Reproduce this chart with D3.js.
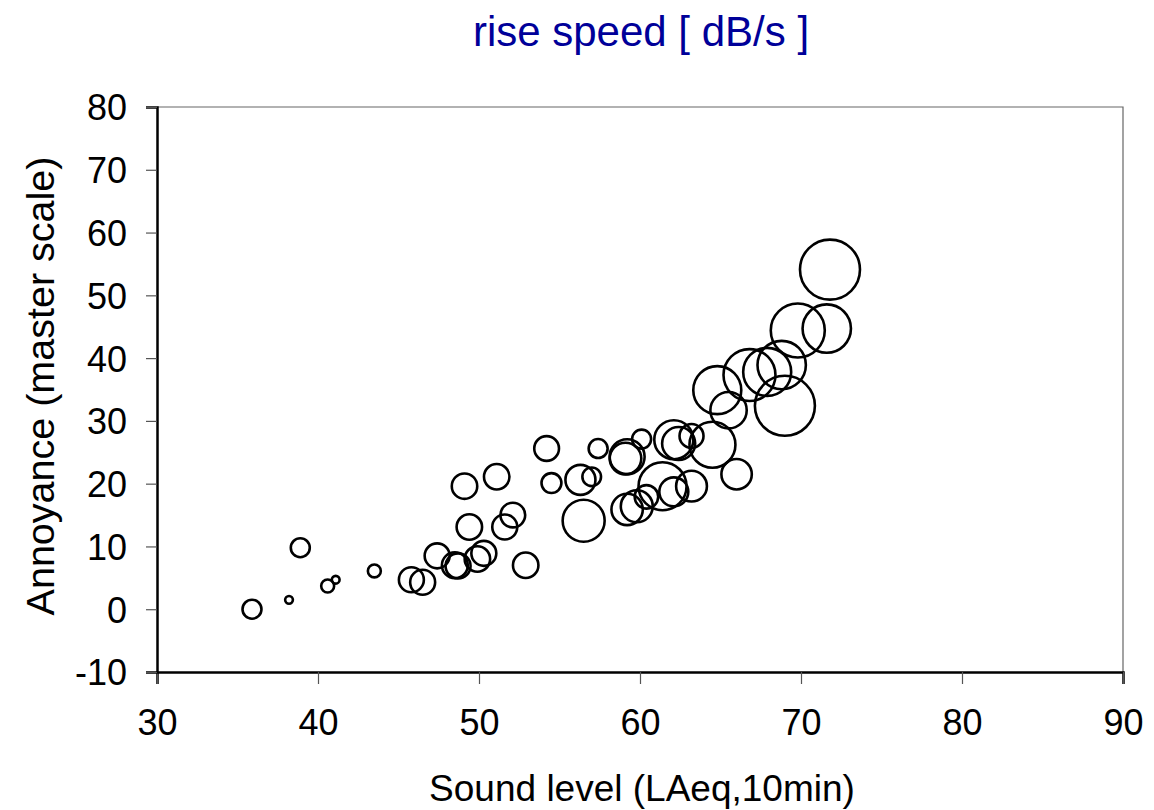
<!DOCTYPE html>
<html>
<head>
<meta charset="utf-8">
<script src="https://cdn.jsdelivr.net/npm/d3@7"></script>
<style>
  body { margin: 0; background: #fff; }
  text { font-family: "Liberation Sans", Arial, sans-serif; }
</style>
</head>
<body>
<div id="chart"></div>
<script>
// sound level (LAeq,10min), annoyance and rise speed for each bubble
const soundLevel = [35.9, 38.2, 38.9, 40.6, 41.1, 43.5, 45.8, 46.5, 47.4, 48.5,
  48.7, 49.1, 49.4, 49.9, 50.3, 51.1, 51.6, 52.1, 52.9, 54.2,
  54.5, 56.3, 57.0, 56.5, 57.4, 59.2, 59.1, 60.1, 59.2, 59.8,
  60.4, 61.4, 62.1, 63.2, 62.1, 62.4, 63.2, 64.5, 66.0, 64.8,
  65.5, 66.8, 67.9, 68.8, 69.0, 69.8, 71.6, 71.8];
const annoyance = [0.0, 1.5, 9.8, 3.7, 4.7, 6.1, 4.7, 4.3, 8.5, 7.0,
  6.9, 19.6, 13.1, 8.0, 8.9, 21.1, 13.1, 15.0, 7.0, 25.6,
  20.1, 20.6, 21.1, 14.1, 25.6, 24.3, 24.0, 27.1, 15.9, 16.4,
  17.9, 19.6, 18.7, 19.6, 27.0, 26.4, 27.6, 26.2, 21.5, 34.9,
  31.7, 37.3, 37.8, 38.9, 32.4, 44.4, 44.7, 54.1];
const riseSpeed = [3.0, 0.5, 3.0, 1.4, 0.5, 1.4, 5.2, 5.2, 5.2, 5.6,
  5.2, 5.4, 5.4, 5.4, 5.2, 5.4, 5.2, 5.1, 5.4, 5.1,
  3.3, 7.5, 2.9, 14.7, 3.0, 10.2, 8.3, 3.0, 8.2, 8.5,
  4.6, 19.2, 7.0, 7.9, 12.7, 9.1, 4.8, 17.6, 7.7, 19.2,
  11.0, 22.5, 19.2, 19.5, 30.0, 24.3, 19.5, 30.0];

const xTicks = [30, 40, 50, 60, 70, 80, 90];
const yTicks = [-10, 0, 10, 20, 30, 40, 50, 60, 70, 80];

const data = soundLevel.map((d, i) => ({ x: d, y: annoyance[i], s: riseSpeed[i] }));

const width = 1154, height = 810;
const margin = { top: 107, right: 31, bottom: 138, left: 157 };

const svg = d3.select("#chart")
  .append("svg")
    .attr("width", width)
    .attr("height", height);

const xScale = d3.scaleLinear()
  .domain([30, 90])
  .range([margin.left, width - margin.right]);

const yScale = d3.scaleLinear()
  .domain([-10, 80])
  .range([height - margin.bottom, margin.top]);

const rScale = d3.scaleSqrt()
  .domain([0, 30])
  .range([0, 30]);

// frame on top and right
svg.append("path")
  .attr("d", `M${xScale(30)},${yScale(80)}H${xScale(90)}V${yScale(-10)}`)
  .attr("fill", "none")
  .attr("stroke", "#666")
  .attr("stroke-width", 1.2);

const xAxis = svg.append("g")
  .attr("transform", `translate(0, ${yScale(-10)})`)
  .call(d3.axisBottom(xScale).tickValues(xTicks).tickSize(12).tickFormat(d => String(d)));

const yAxis = svg.append("g")
  .attr("transform", `translate(${xScale(30)}, 0)`)
  .call(d3.axisLeft(yScale).tickValues(yTicks).tickSize(11).tickFormat(d => String(d)));

[xAxis, yAxis].forEach(g => {
  g.select(".domain").attr("stroke", "#000").attr("stroke-width", 2.5);
  g.selectAll(".tick line").attr("stroke", "#555").attr("stroke-width", 1.2);
  g.selectAll(".tick text")
    .attr("fill", "#000")
    .style("font-family", "'Liberation Sans', Arial, sans-serif")
    .style("font-size", "36px");
});

xAxis.selectAll(".tick text")
  .attr("y", 63)
  .attr("dy", 0);

yAxis.selectAll(".tick text")
  .attr("x", -30)
  .attr("dy", "0.36em");

// bubbles
svg.append("g")
  .selectAll("circle")
  .data(data)
  .join("circle")
    .attr("cx", d => xScale(d.x))
    .attr("cy", d => yScale(d.y))
    .attr("r", d => rScale(d.s))
    .attr("fill", "none")
    .attr("stroke", "#000")
    .attr("stroke-width", 2.6);

svg.append("text")
  .text("rise speed [ dB/s ]")
  .attr("text-anchor", "middle")
  .attr("x", 641)
  .attr("y", 46)
  .attr("fill", "#000099")
  .style("font-size", "42px");

svg.append("text")
  .text("Sound level (LAeq,10min)")
  .attr("text-anchor", "middle")
  .attr("x", 642)
  .attr("y", 801)
  .style("font-size", "37px");

svg.append("text")
  .text("Annoyance (master scale)")
  .attr("text-anchor", "middle")
  .attr("transform", "translate(54, 386) rotate(-90)")
  .style("font-size", "39.5px");
</script>
</body>
</html>
